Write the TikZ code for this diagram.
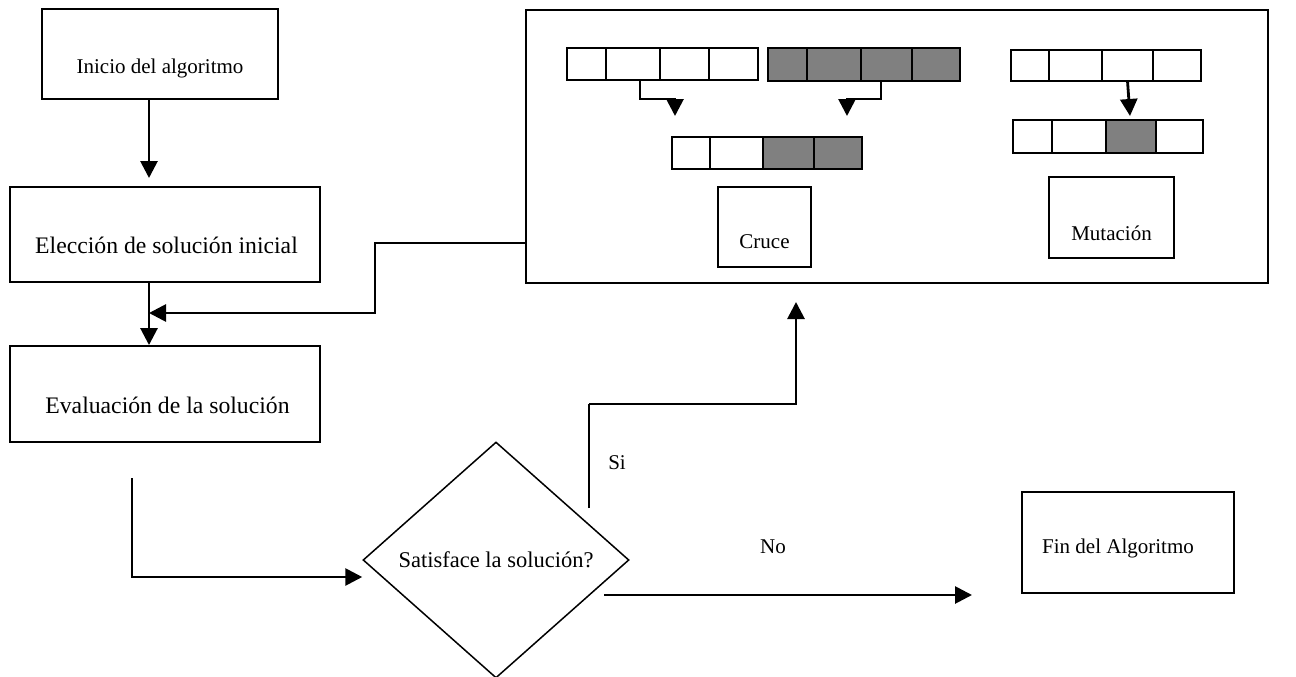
\documentclass[tikz,border=0pt]{standalone}
\usepackage{fontspec}
\setmainfont{Liberation Serif}
\usetikzlibrary{shapes.geometric,arrows.meta}

\begin{document}
\begin{tikzpicture}[x=1pt,y=-1pt,
  box/.style={draw=black, line width=1.9pt, inner sep=0pt},
  cell/.style={draw=black, line width=1.9pt, inner sep=0pt, outer sep=0pt},
  flow/.style={line width=2.8pt, -{Triangle[length=17pt,width=17pt]}},
  bigtxt/.style={font=\fontsize{23.7}{28}\selectfont},
  smalltxt/.style={font=\fontsize{21}{25}\selectfont}]
\useasboundingbox (0,0) rectangle (1296,677);

% cajas del diagrama
\node[box, minimum width=236pt, minimum height=90pt,
  label={[smalltxt, yshift=-14pt]center:Inicio del algoritmo}] (inicio) at (160,54) {};
\node[box, minimum width=310pt, minimum height=95pt,
  label={[bigtxt, xshift=1.5pt, yshift=-10.5pt]center:Elección de solución inicial}] (eleccion) at (165,234.5) {};
\node[box, minimum width=310pt, minimum height=96pt,
  label={[bigtxt, xshift=2.5pt, yshift=-11pt]center:Evaluación de la solución}] (evaluacion) at (165,394) {};
\node[diamond, draw=black, line width=1.5pt, minimum width=266pt, minimum height=236pt,
  inner sep=0pt, font=\fontsize{22.5}{27}\selectfont] (sat) at (496,560) {Satisface la solución?};
\node[box, minimum width=212pt, minimum height=101pt,
  label={[smalltxt, xshift=-10pt, yshift=-5.5pt]center:Fin del Algoritmo}] (fin) at (1128,542.5) {};
\node[box, minimum width=742pt, minimum height=273pt] (big) at (897,146.5) {};
\node[box, minimum width=93pt, minimum height=80pt,
  label={[smalltxt, yshift=-15pt]center:Cruce}] (cruce) at (764.5,227) {};
\node[box, minimum width=125pt, minimum height=81pt,
  label={[smalltxt, yshift=-15.5pt]center:Mutación}] (mutacion) at (1111.5,217.5) {};

% cromosomas
\foreach \xa/\xb [count=\i] in {567/606,606/660,660/709,709/758} {
  \pgfmathsetmacro\w{\xb-\xa}
  \node[cell, minimum width=\w pt, minimum height=32pt] (pa\i) at ({(\xa+\xb)/2},64) {};
}
\foreach \xa/\xb [count=\i] in {768/807,807/861,861/912,912/960} {
  \pgfmathsetmacro\w{\xb-\xa}
  \node[cell, fill=gray, minimum width=\w pt, minimum height=33pt] (pb\i) at ({(\xa+\xb)/2},64.5) {};
}
\foreach \xa/\xb/\fc [count=\i] in {672/710/white,710/763/white,763/814/gray,814/862/gray} {
  \pgfmathsetmacro\w{\xb-\xa}
  \node[cell, fill=\fc, minimum width=\w pt, minimum height=32pt] (hc\i) at ({(\xa+\xb)/2},153) {};
}
\foreach \xa/\xb [count=\i] in {1011/1049,1049/1102,1102/1153,1153/1201} {
  \pgfmathsetmacro\w{\xb-\xa}
  \node[cell, minimum width=\w pt, minimum height=31pt] (pm\i) at ({(\xa+\xb)/2},65.5) {};
}
\foreach \xa/\xb/\fc [count=\i] in {1013/1052/white,1052/1106/white,1106/1156/gray,1156/1203/white} {
  \pgfmathsetmacro\w{\xb-\xa}
  \node[cell, fill=\fc, minimum width=\w pt, minimum height=33pt] (hm\i) at ({(\xa+\xb)/2},136.5) {};
}

% puntos libres
\coordinate (c1) at (149,178);
\coordinate (c2) at (149,313);
\coordinate (c3) at (132,478);
\coordinate (ta) at (675,116);
\coordinate (tb) at (847,116);
\coordinate (tm) at (1130,116);
\coordinate (si0) at (589,508);
\coordinate (si1) at (589,404);
\coordinate (si2) at (796,302);
\coordinate (no0) at (604,595);
\coordinate (no1) at (972,595);

% flechas
\draw[flow] (inicio.south -| c1) -- (c1);
\draw[flow] (eleccion.south -| c1) -- (evaluacion.north -| c1);
\draw[flow] ([yshift=41pt]big.south west) -- ++(-150,0) |- (c2);
\draw[flow] (c3) |- ([yshift=-17pt]sat.west);
\draw[line width=1.1pt] (si0) -- (si1);
\draw[flow] (si1) -| (si2);
\draw[flow] (no0) -- (no1);
\draw[flow] ([xshift=7pt]pa2.south) -- ++(0,19) -| (ta);
\draw[flow] ([xshift=-5.5pt]pb3.south) -- ++(0,18) -| (tb);
\draw[flow] (pm3.south) -- (tm);

\node[smalltxt] (si) at (617,463) {Si};
\node[smalltxt] (no) at (773,547) {No};
\end{tikzpicture}
\end{document}
